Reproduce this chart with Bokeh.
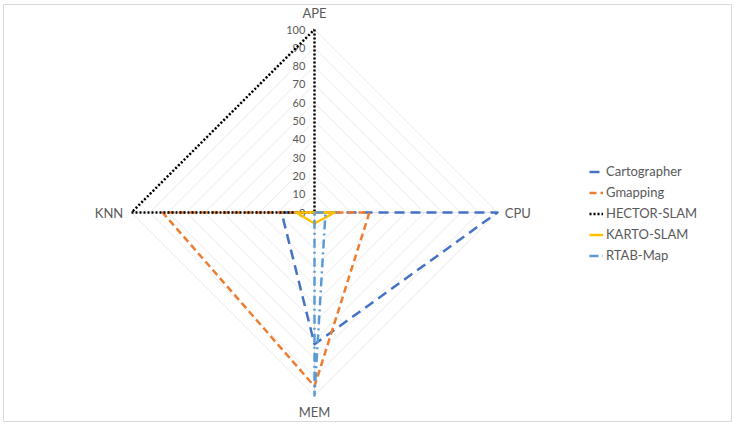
import numpy as np
from bokeh.plotting import figure
from bokeh.models import Range1d, Legend, LegendItem
from bokeh.core.properties import value
from bokeh.embed import file_html
from bokeh.resources import INLINE

axes_labels = ["APE", "CPU", "MEM", "KNN"]
series_names = ["Cartographer", "Gmapping", "HECTOR-SLAM", "KARTO-SLAM", "RTAB-Map"]
cartographer = [0, 100, 72, 18]
gmapping = [0, 30, 95, 83]
hector = [100, 0, 0, 100]
karto = [0, 11, 6, 10]
rtab = [0, 6, 100, 0]
tick_values = [0, 10, 20, 30, 40, 50, 60, 70, 80, 90, 100]

series_values = [cartographer, gmapping, hector, karto, rtab]
colors = ["#4472C4", "#ED7D31", "#000000", "#FFC000", "#5B9BD5"]
dashes = ["10 6", "7 4", "2 2", "solid", "9 4 2 4"]
widths = [2.5, 2.5, 2.5, 2.5, 2.5]

FONT = "Lato"
TXT = "#595959"

W, H = 732, 423
BL, BT, BR, BB = 3, 4, 1, 2
FW, FH = W - BL - BR, H - BT - BB
px_per_unit = 1.83
cx_px, cy_px = 314 - BL, 212 - BT  # centre in frame pixels (from left, from top)
p = figure(width=W, height=H, output_backend="svg", toolbar_location=None,
           x_range=Range1d(-cx_px / px_per_unit, (FW - cx_px) / px_per_unit),
           y_range=Range1d(-(FH - cy_px) / px_per_unit, cy_px / px_per_unit),
           min_border_left=BL, min_border_top=BT, min_border_right=BR, min_border_bottom=BB)
p.axis.visible = False
p.grid.visible = False
p.outline_line_color = "#d9d9d9"
p.outline_line_width = 1
p.background_fill_color = "white"
p.border_fill_color = "white"

angles = np.array([90, 0, -90, 180]) * np.pi / 180.0

def to_xy(vals):
    v = np.array(list(vals) + [vals[0]], dtype=float)
    a = np.array(list(angles) + [angles[0]])
    return v * np.cos(a), v * np.sin(a)

# grid diamonds
for t in tick_values[1:]:
    gx, gy = to_xy([t] * 4)
    p.line(gx, gy, line_color="#eaeaea", line_width=1)
# spokes
for a in angles:
    p.line([0, 100 * np.cos(a)], [0, 100 * np.sin(a)], line_color="#e0e0e0", line_width=1)

# tick labels
p.text(x=[-5] * len(tick_values), y=tick_values, text=[str(t) for t in tick_values],
       text_align="right", text_baseline="middle", text_font=value(FONT),
       text_font_size="11px", text_color=TXT)

# category labels
lab_r = [109, 104, 109, 104.5]
lx = [r * np.cos(a) for r, a in zip(lab_r, angles)]
ly = [r * np.sin(a) for r, a in zip(lab_r, angles)]
p.text(x=[lx[0], lx[2]], y=[ly[0], ly[2]], text=[axes_labels[0], axes_labels[2]],
       text_align="center", text_baseline="middle", text_font=value(FONT),
       text_font_size="13px", text_color=TXT)
p.text(x=[lx[1]], y=[ly[1]], text=[axes_labels[1]], text_align="left", text_baseline="middle",
       text_font=value(FONT), text_font_size="13px", text_color=TXT)
p.text(x=[lx[3]], y=[ly[3]], text=[axes_labels[3]], text_align="right", text_baseline="middle",
       text_font=value(FONT), text_font_size="13px", text_color=TXT)

items = []
for name, vals, c, d, w in zip(series_names, series_values, colors, dashes, widths):
    sx, sy = to_xy(vals)
    r = p.line(sx, sy, line_color=c, line_dash=d, line_width=w, line_join="round")
    items.append(LegendItem(label=name, renderers=[r]))

legend = Legend(items=items, location=(586, 158), padding=0, spacing=5, margin=0,
                glyph_width=14, glyph_height=15, label_standoff=3,
                label_text_font=FONT, label_text_font_size="13px", label_text_color=TXT,
                label_height=15, border_line_color=None, background_fill_alpha=0)
p.add_layout(legend, "center")

open("out.html", "w").write(file_html(p, INLINE))
